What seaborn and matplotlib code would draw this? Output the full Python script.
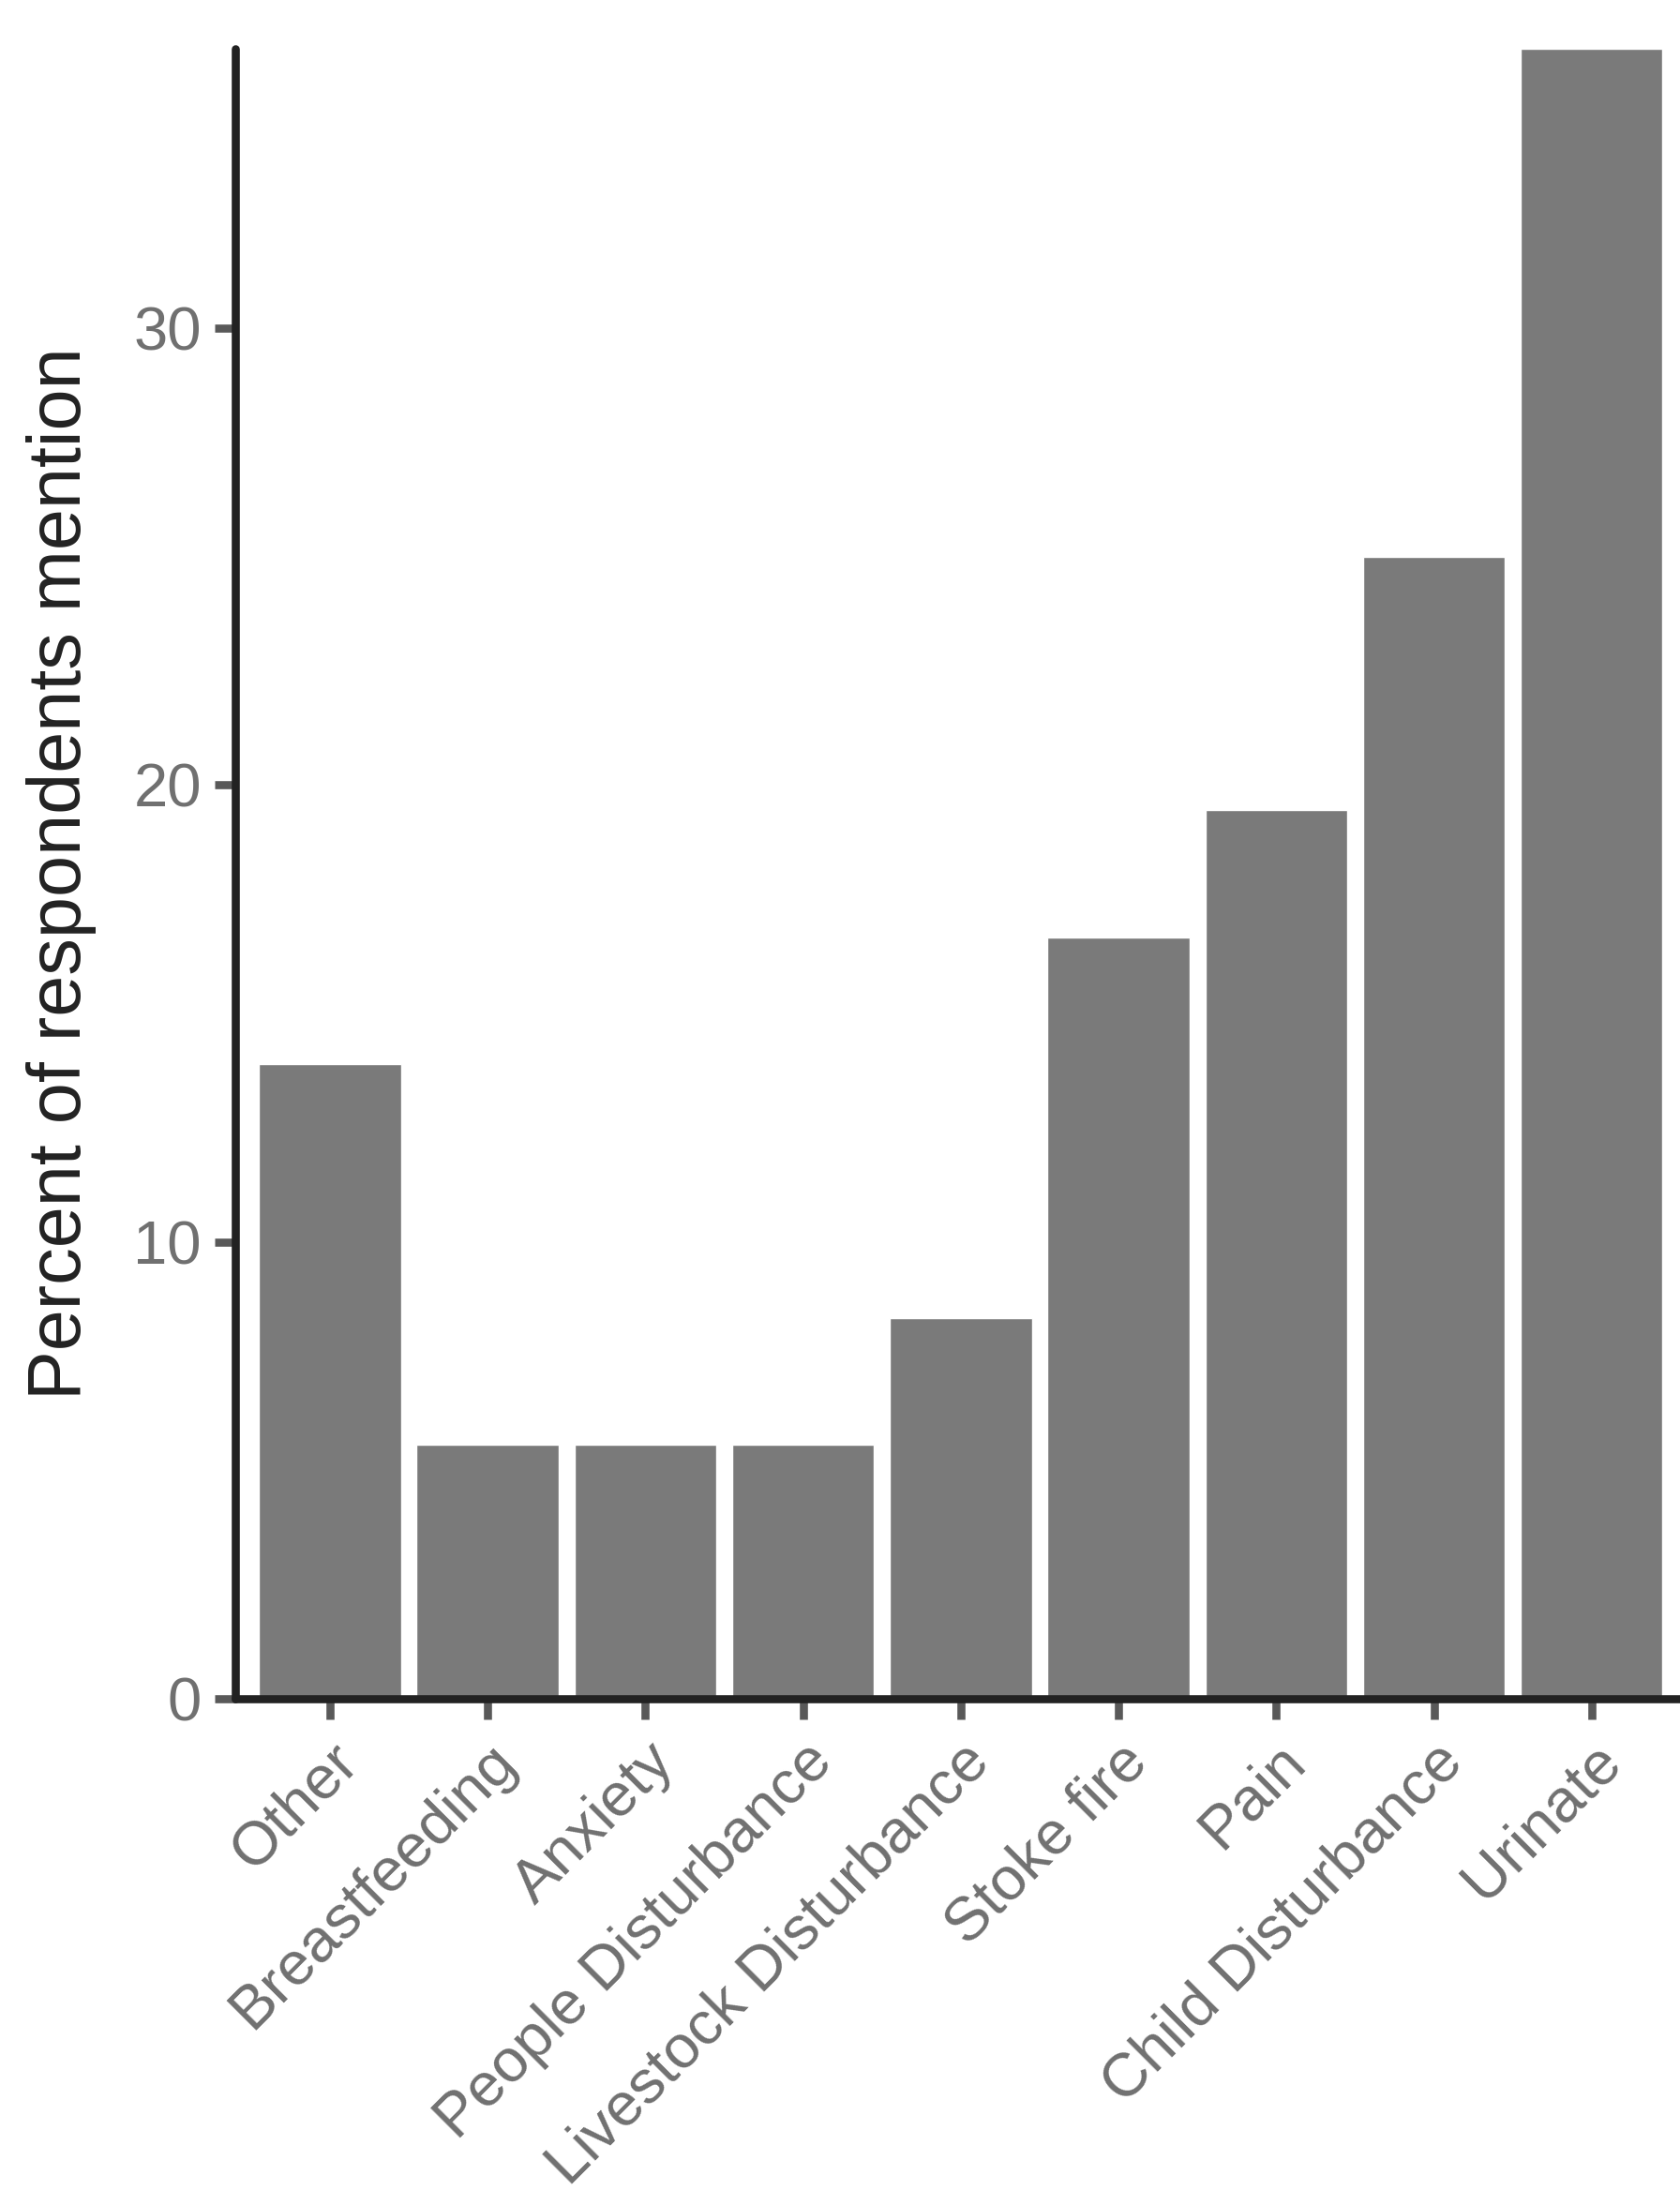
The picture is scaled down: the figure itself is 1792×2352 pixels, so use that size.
import matplotlib
matplotlib.use("Agg")
import matplotlib.pyplot as plt
import seaborn as sns
import pandas as pd

# reasons mentioned (percent of respondents)
categories = ["Other", "Breastfeeding", "Anxiety", "People Disturbance",
              "Livestock Disturbance", "Stoke fire", "Pain",
              "Child Disturbance", "Urinate"]
percent = [13.89, 5.56, 5.56, 5.56, 8.33, 16.67, 19.44, 25.0, 36.11]
y_ticks = [0, 10, 20, 30]

df = pd.DataFrame({"reason": categories, "pct": percent})

sns.set_theme(style="ticks")
plt.rcParams["font.family"] = ["Liberation Sans", "DejaVu Sans"]

fig = plt.figure(figsize=(17.92, 23.52), dpi=100)
ax = fig.add_axes([251 / 1792, (2352 - 1812) / 2352, 1541 / 1792, (1812 - 52) / 2352])

sns.barplot(data=df, x="reason", y="pct", order=categories, color="#7a7a7a",
            saturation=1, width=0.9, ax=ax)

ax.set_xlim(-0.6, 8.56)
ax.set_ylim(0, max(percent))
ax.set_yticks(y_ticks)
ax.set_yticklabels([str(t) for t in y_ticks])

sns.despine(ax=ax)
for side in ["left", "bottom"]:
    ax.spines[side].set_linewidth(6.2)
    ax.spines[side].set_color("#222222")
    ax.spines[side].set_capstyle("round")

ax.tick_params(axis="both", length=16, width=6.2, color="#595959",
               labelcolor="#707070", labelsize=47)
ax.tick_params(axis="y", pad=10)
ax.tick_params(axis="x", pad=10)
plt.setp(ax.get_xticklabels(), rotation=45, ha="right", va="top",
         rotation_mode="anchor")

ax.set_xlabel("")
ax.set_ylabel("Percent of respondents mention", fontsize=57, color="#222222",
              labelpad=28)

fig.savefig("out.png", dpi=100)
